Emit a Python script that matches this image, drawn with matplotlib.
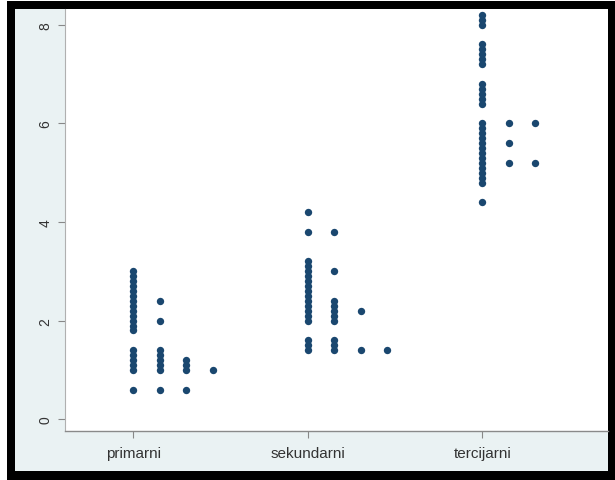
import matplotlib
matplotlib.use("Agg")
import matplotlib.pyplot as plt
from matplotlib.patches import Rectangle

# ---- data (bin value, number of stacked dots) ----
categories = ["primarni", "sekundarni", "tercijarni"]

primarni_y = [3.0, 2.9, 2.8, 2.7, 2.6, 2.5, 2.4, 2.3, 2.2, 2.1, 2.0, 1.9, 1.8,
              1.4, 1.3, 1.2, 1.1, 1.0, 0.6]
primarni_n = [1, 1, 1, 1, 1, 1, 2, 1, 1, 1, 2, 1, 1,
              2, 2, 3, 3, 4, 3]

sekundarni_y = [4.2, 3.8, 3.2, 3.1, 3.0, 2.9, 2.8, 2.7, 2.6, 2.5, 2.4, 2.3, 2.2,
                2.1, 2.0, 1.6, 1.5, 1.4]
sekundarni_n = [1, 2, 1, 1, 2, 1, 1, 1, 1, 1, 2, 2, 3,
                2, 2, 2, 2, 4]

tercijarni_y = [8.2, 8.1, 8.0, 7.6, 7.5, 7.4, 7.3, 7.2, 6.8, 6.7, 6.6, 6.5, 6.4,
                6.0, 5.9, 5.8, 5.7, 5.6, 5.5, 5.4, 5.3, 5.2, 5.1, 5.0, 4.9, 4.8, 4.4]
tercijarni_n = [1, 1, 1, 1, 1, 1, 1, 1, 1, 1, 1, 1, 1,
                3, 1, 1, 1, 2, 1, 1, 1, 3, 1, 1, 1, 1, 1]

y_ticks = [0, 2, 4, 6, 8]

groups = [(primarni_y, primarni_n), (sekundarni_y, sekundarni_n),
          (tercijarni_y, tercijarni_n)]

W, H = 615, 481
fig = plt.figure(figsize=(W / 100, H / 100), dpi=100, facecolor="white")

def px_rect(x0, y0, x1, y1, color, z):
    # pixel coords with origin at top-left
    r = Rectangle((x0 / W, 1 - y1 / H), (x1 - x0) / W, (y1 - y0) / H,
                  transform=fig.transFigure, facecolor=color, edgecolor="none",
                  zorder=z)
    fig.patches.append(r)

px_rect(7, 2, 615, 481, "black", -3)
px_rect(15, 10, 608, 472, "#eaf2f3", -2)

ax_l, ax_r, ax_t, ax_b = 65, 608, 10, 432
ax = fig.add_axes([ax_l / W, 1 - ax_b / H, (ax_r - ax_l) / W, (ax_b - ax_t) / H])
ax.set_facecolor("white")

col_step = 0.152
dot_color = "#1a476f"
for gi, (ys, ns) in enumerate(groups):
    for yv, n in zip(ys, ns):
        for k in range(n):
            ax.plot(gi + k * col_step, yv, "o", color=dot_color,
                    markersize=5.3, markeredgewidth=0, zorder=3)

ax.set_xlim(-0.39, 2.72)
ax.set_ylim(-0.24, 8.32)

ax.set_xticks(range(len(categories)))
ax.set_xticklabels(categories, fontsize=11, color="#333333",
                   family=["Liberation Sans", "DejaVu Sans"])
ax.set_yticks(y_ticks)
ax.set_yticklabels([str(t) for t in y_ticks], fontsize=10, color="#333333",
                   rotation=90, va="center",
                   family=["Liberation Sans", "DejaVu Sans"])

ax.tick_params(axis="x", length=5, width=0.8, color="#888888", pad=6)
ax.tick_params(axis="y", length=5, width=0.8, color="#888888", pad=4)

for s in ["top", "right"]:
    ax.spines[s].set_visible(False)
ax.spines["left"].set_color("#b0b0b0")
ax.spines["bottom"].set_color("#8a8a8a")
ax.spines["left"].set_linewidth(0.8)
ax.spines["bottom"].set_linewidth(1.0)

fig.savefig("out.png", dpi=100, facecolor="white")
